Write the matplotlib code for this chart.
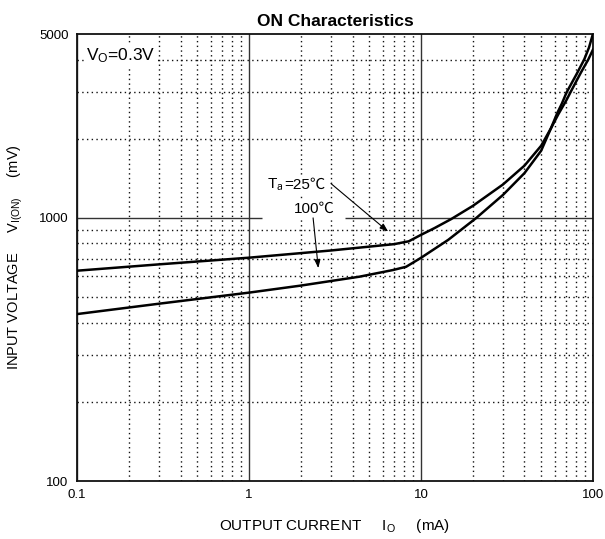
import matplotlib
matplotlib.use("Agg")
import matplotlib.pyplot as plt
from matplotlib.ticker import FixedLocator, FixedFormatter, NullFormatter

plt.rcParams['font.family'] = ['Liberation Sans', 'Noto Sans CJK JP', 'DejaVu Sans']
plt.rcParams['mathtext.fontset'] = 'custom'
plt.rcParams['mathtext.rm'] = 'Liberation Sans'
plt.rcParams['mathtext.it'] = 'Liberation Sans:italic'
plt.rcParams['mathtext.bf'] = 'Liberation Sans:bold'

# ---- data -------------------------------------------------------------
title = "ON Characteristics"
x_label = r"OUTPUT CURRENT     I$_\mathregular{O}$     (mA)"
y_label = r"INPUT VOLTAGE     V$_\mathregular{I(ON)}$     (mV)"
condition = r"V$_\mathregular{O}$=0.3V"
label_25_sym = r"T$_\mathregular{a}$"
label_25_val = "=25℃"
label_100 = "100℃"

x_ticks = [0.1, 1, 10, 100]
x_tick_labels = ["0.1", "1", "10", "100"]
y_ticks = [100, 1000, 5000]
y_tick_labels = ["100", "1000", "5000"]

current_25 = [0.1, 0.3, 1, 3, 7, 8.5, 10, 12, 15, 20, 30, 40, 50, 57, 63, 70.3, 75, 85, 94, 100]
voltage_25 = [630, 666, 706, 752, 795, 815, 862, 915, 990, 1110, 1340, 1580, 1880, 2190, 2480, 2810, 3050, 3560, 4000, 4355]

current_100 = [0.1, 0.3, 1, 2, 4.4, 6.9, 8.2, 10, 14.4, 21, 30, 40, 50, 57, 62, 66, 70.3, 80, 89, 95, 100]
voltage_100 = [431, 472, 520, 553, 598, 634, 652, 705, 825, 1000, 1223, 1480, 1800, 2190, 2500, 2720, 3000, 3500, 4000, 4450, 5000]

# ---- figure -----------------------------------------------------------
fig = plt.figure(figsize=(6.05, 5.39), dpi=100)
ax = fig.add_axes([0.1273, 0.1076, 0.8527, 0.8293])
ax.set_xscale('log')
ax.set_yscale('log')
ax.set_xlim(0.1, 100)
ax.set_ylim(100, 5000)

ax.xaxis.set_major_locator(FixedLocator(x_ticks))
ax.xaxis.set_major_formatter(FixedFormatter(x_tick_labels))
ax.yaxis.set_major_locator(FixedLocator(y_ticks))
ax.yaxis.set_major_formatter(FixedFormatter(y_tick_labels))
x_minor = [m * d for d in (0.1, 1, 10) for m in range(2, 10)]
y_minor = [m * d for d in (100, 1000) for m in range(2, 10) if m * d < 5000]
ax.xaxis.set_minor_locator(FixedLocator(x_minor))
ax.yaxis.set_minor_locator(FixedLocator(y_minor))
ax.xaxis.set_minor_formatter(NullFormatter())
ax.yaxis.set_minor_formatter(NullFormatter())
ax.tick_params(which='both', length=0, labelsize=9.5, pad=6)

dot = (0, (1, 2.4))
ax.grid(True, which='minor', color='#111111', linestyle=dot, linewidth=1.0)
ax.xaxis.grid(True, which='major', color='#333333', linestyle='-', linewidth=1.0)
# 1000 mV major line, interrupted behind the "100℃" label
ax.hlines(1000, 0.1, 1.19, color='#333333', linewidth=1.0, zorder=1)
ax.hlines(1000, 3.61, 100, color='#333333', linewidth=1.0, zorder=1)

for s in ax.spines.values():
    s.set_linewidth(1.3)
    s.set_color('#111111')

ax.plot(current_25, voltage_25, color='black', linewidth=1.8, zorder=3,
        solid_joinstyle='round')
ax.plot(current_100, voltage_100, color='black', linewidth=1.8, zorder=3,
        solid_joinstyle='round')

ax.set_title(title, fontsize=12.5, fontweight='bold', pad=6)
ax.set_xlabel(x_label, fontsize=11, labelpad=11)
ax.set_ylabel(y_label, fontsize=10.5, labelpad=10)

box = dict(facecolor='white', edgecolor='none', pad=1.5)
ax.text(0.113, 4150, condition, fontsize=12.5, va='center', ha='left', bbox=box, zorder=4)

# Ta = 25 ℃ label (symbol + value) with arrow
ax.text(1.6, 1290, label_25_sym, fontsize=11, ha='right', va='baseline', bbox=box, zorder=4)
ax.text(1.6, 1290, label_25_val, fontsize=11, ha='left', va='baseline', bbox=box, zorder=4)
arrow = dict(arrowstyle='-|>,head_length=0.5,head_width=0.18',
             color='black', lw=0.8, shrinkA=0, shrinkB=0)
ax.annotate('', xy=(6.45, 887), xytext=(3.0, 1350), arrowprops=arrow, zorder=4)

ax.text(2.39, 1085, label_100, fontsize=11, ha='center', va='center', bbox=box, zorder=4)
ax.annotate('', xy=(2.53, 644), xytext=(2.36, 1000), arrowprops=arrow, zorder=4)

fig.savefig("out.png", dpi=100)
